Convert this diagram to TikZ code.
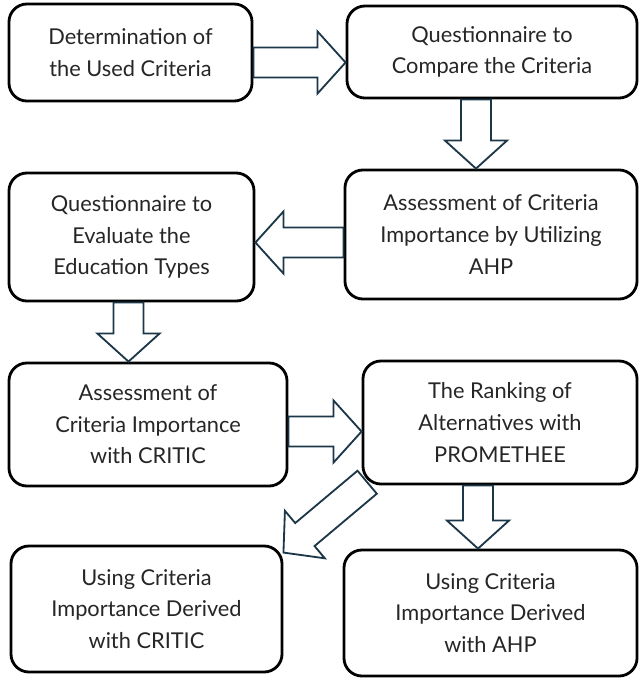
\documentclass[tikz,border=0pt]{standalone}
\usepackage{fontspec}
\setmainfont{Lato}
\usetikzlibrary{calc}
\definecolor{flowteal}{RGB}{28,55,72}
\definecolor{boxtext}{RGB}{38,38,38}

\begin{document}
\begin{tikzpicture}[x=0.025cm,y=-0.025cm]
  \tikzstyle{stage}=[draw=black,line width=2pt,rounded corners=0.45cm,fill=white,
    align=center,text=boxtext,font=\fontsize{15.5}{22.5}\selectfont,inner sep=0pt]
  \tikzstyle{blk}=[draw=flowteal,line width=1.3pt,fill=white,line join=miter]
  \useasboundingbox (0,0) rectangle (640,679);

  \node[stage,minimum width=6.075cm,minimum height=2.425cm] (crit) at (130.5,52.5)
    {Determination of\\the Used Criteria};
  \node[stage,minimum width=7.25cm,minimum height=2.3cm] (qcomp) at (492,52)
    {Questionnaire to\\Compare the Criteria};
  \node[stage,minimum width=7.3cm,minimum height=3.225cm] (ahp) at (491,234.5)
    {Assessment of Criteria\\Importance by Utilizing\\AHP};
  \node[stage,minimum width=6.125cm,minimum height=3.2cm] (qeval) at (131.5,237)
    {Questionnaire to\\Evaluate the\\Education Types};
  \node[stage,minimum width=6.95cm,minimum height=3.075cm] (critic) at (148,424.5)
    {Assessment of\\Criteria Importance\\with CRITIC};
  \node[stage,minimum width=6.85cm,minimum height=3.075cm] (prom) at (500,422.5)
    {The Ranking of\\Alternatives with\\PROMETHEE};
  \node[stage,minimum width=6.775cm,minimum height=3.15cm] (usecritic) at (146.5,609)
    {Using Criteria\\Importance Derived\\with CRITIC};
  \node[stage,minimum width=7.325cm,minimum height=3.15cm] (useahp) at (490.5,613)
    {Using Criteria\\Importance Derived\\with AHP};

  % tail and tip of every block arrow
  \coordinate (a1s) at ([yshift=-0.25cm]crit.east);
  \coordinate (a1e) at (a1s -| qcomp.west);
  \coordinate (a2s) at ([xshift=-0.4cm]qcomp.south);
  \coordinate (a2e) at (a2s |- ahp.north);
  \coordinate (a3s) at ([yshift=-0.2cm]ahp.west);
  \coordinate (a3e) at (a3s -| qeval.east);
  \coordinate (a4s) at ([xshift=-0.075cm]qeval.south);
  \coordinate (a4e) at (a4s |- critic.north);
  \coordinate (a5s) at ([yshift=-0.175cm]critic.east);
  \coordinate (a5e) at (a5s -| prom.west);
  \coordinate (a6s) at ([shift={(0.14cm,0.08cm)}]prom.south west);
  \coordinate (a6e) at ([yshift=-0.2cm]usecritic.north east);
  \coordinate (a7s) at ([xshift=-0.55cm]prom.south);
  \coordinate (a7e) at (a7s |- useahp.north);

  \foreach \s/\e in {a1s/a1e,a2s/a2e,a3s/a3e,a4s/a4e,a5s/a5e,a6s/a6e,a7s/a7e} {
    \coordinate (hd) at ($(\e)!0.7cm!(\s)$);
    \draw[blk] ($(\s)!0.375cm!90:(\e)$) -- ($(hd)!0.375cm!90:(\e)$) -- ($(hd)!0.775cm!90:(\e)$)
      -- (\e) -- ($(hd)!0.775cm!-90:(\e)$) -- ($(hd)!0.375cm!-90:(\e)$)
      -- ($(\s)!0.375cm!-90:(\e)$) -- cycle;
  }
\end{tikzpicture}
\end{document}
